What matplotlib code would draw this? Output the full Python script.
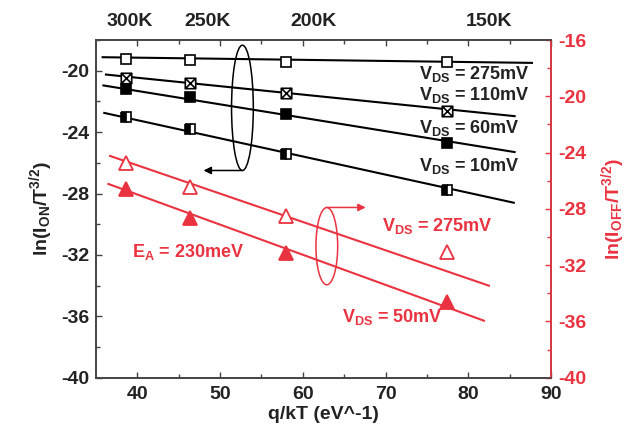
import matplotlib
matplotlib.use("Agg")
import matplotlib.pyplot as plt
from matplotlib.patches import Ellipse
from matplotlib.path import Path
import matplotlib.transforms as mtransforms

plt.rcParams['font.family'] = ['Liberation Sans', 'DejaVu Sans']
plt.rcParams['font.weight'] = 'bold'
plt.rcParams['mathtext.fontset'] = 'custom'
plt.rcParams['mathtext.rm'] = 'Liberation Sans:bold'
plt.rcParams['mathtext.bf'] = 'Liberation Sans:bold'
plt.rcParams['mathtext.it'] = 'Liberation Sans:bold'
plt.rcParams['mathtext.default'] = 'bf'
plt.rcParams['axes.unicode_minus'] = False

# ---------------- data ----------------
qkT = [38.68, 46.42, 58.02, 77.37]          # q/kT at 300K, 250K, 200K, 150K
temp_labels = ['300K', '250K', '200K', '150K']
temp_label_x = [39.1, 48.5, 61.3, 82.5]

on_275 = [-19.25, -19.33, -19.42, -19.40]
on_110 = [-20.47, -20.78, -21.45, -22.60]
on_60 = [-21.20, -21.72, -22.82, -24.74]
on_10 = [-23.00, -23.80, -25.40, -27.78]

off_275 = [-24.72, -26.43, -28.51, -31.09]
off_50 = [-26.61, -28.67, -31.16, -34.60]

# fitted lines (endpoints)
fit_on_275_x, fit_on_275 = [35.8, 87.7], [-19.12, -19.49]
fit_on_110_x, fit_on_110 = [36.2, 85.6], [-20.25, -22.96]
fit_on_60_x, fit_on_60 = [35.9, 85.6], [-20.96, -25.30]
fit_on_10_x, fit_on_10 = [36.0, 85.5], [-22.75, -28.60]
fit_off_275_x, fit_off_275 = [36.7, 82.5], [-24.24, -33.46]
fit_off_50_x, fit_off_50 = [36.5, 81.9], [-26.23, -35.95]

RED = '#ea3340'
DARK = '#222222'

fig = plt.figure(figsize=(6.27, 4.34), dpi=100)
ax = fig.add_axes([0.1531, 0.1297, 0.7257, 0.7781])
ax2 = ax.twinx()

# crossed-square marker
xsq = Path([(-1, -1), (1, -1), (1, 1), (-1, 1), (-1, -1),
            (-1, -1), (1, 1), (-1, 1), (1, -1)],
           [Path.MOVETO, Path.LINETO, Path.LINETO, Path.LINETO, Path.CLOSEPOLY,
            Path.MOVETO, Path.LINETO, Path.MOVETO, Path.LINETO])

lw = 1.5
ms = 7.5
ax.plot(fit_on_275_x, fit_on_275, color='black', lw=lw, zorder=2)
ax.plot(fit_on_110_x, fit_on_110, color='black', lw=lw, zorder=2)
ax.plot(fit_on_60_x, fit_on_60, color='black', lw=lw, zorder=2)
ax.plot(fit_on_10_x, fit_on_10, color='black', lw=lw, zorder=2)

ax.plot(qkT, on_275, ls='none', marker='s', ms=ms, mfc='white', mec='black', mew=1.2, zorder=3)
ax.plot(qkT, on_110, ls='none', marker=xsq, ms=ms, mfc='white', mec='black', mew=1.2, zorder=3)
ax.plot(qkT, on_60, ls='none', marker='s', ms=ms, mfc='black', mec='black', mew=1.2, zorder=3)
ax.plot(qkT, on_10, ls='none', marker='s', ms=ms, fillstyle='left', mfc='black',
        mfcalt='white', mec='black', mew=1.2, zorder=3)

ax2.plot(fit_off_275_x, fit_off_275, color=RED, lw=lw, zorder=2)
ax2.plot(fit_off_50_x, fit_off_50, color=RED, lw=lw, zorder=2)
ax2.plot(qkT, off_275, ls='none', marker='^', ms=10, mfc='white', mec=RED, mew=1.3, zorder=3)
ax2.plot(qkT, off_50, ls='none', marker='^', ms=10, mfc=RED, mec=RED, mew=1.3, zorder=3)

# axes limits and ticks
ax.set_xlim(35, 90)
ax.set_ylim(-40, -18)
ax2.set_ylim(-40, -16)
ax.set_xticks([40, 50, 60, 70, 80, 90])
ax.set_xticks([45, 55, 65, 75, 85], minor=True)
ax.set_yticks([-40, -36, -32, -28, -24, -20])
ax.set_yticks([-38, -34, -30, -26, -22, -18], minor=True)
ax2.set_yticks([-40, -36, -32, -28, -24, -20, -16])
ax2.set_yticks([-38, -34, -30, -26, -22, -18], minor=True)

for a in (ax, ax2):
    for s in a.spines.values():
        s.set_linewidth(1.2)
        s.set_color('#444444')
ax2.spines['right'].set_color(RED)

TFS = 14
ax.tick_params(axis='both', which='both', direction='in', top=True, right=False,
               color='#444444', width=1.0, labelsize=TFS, labelcolor=DARK)
ax.tick_params(axis='x', which='both', pad=6)
ax.tick_params(axis='y', which='both', pad=5)
ax.tick_params(which='major', length=4)
ax.tick_params(which='minor', length=3)
ax2.tick_params(axis='y', which='both', direction='in', color=RED, labelcolor=RED,
                width=1.0, labelsize=TFS, pad=5)
ax2.tick_params(which='major', length=4)
ax2.tick_params(which='minor', length=3)

for lab in ax.get_xticklabels() + ax.get_yticklabels() + ax2.get_yticklabels():
    lab.set_fontweight('bold')

ax.set_xlabel('q/kT (eV^-1)', fontsize=TFS, fontweight='bold', color=DARK, labelpad=2)
ax.set_ylabel(r'ln(I$_{ON}$/T$^{3/2}$)', fontsize=TFS, fontweight='bold', color=DARK, labelpad=4)
ax2.set_ylabel(r'ln(I$_{OFF}$/T$^{3/2}$)', fontsize=TFS, fontweight='bold', color=RED, labelpad=9)

# top temperature labels
trans = mtransforms.blended_transform_factory(ax.transData, ax.transAxes)
for xv, t in zip(temp_label_x, temp_labels):
    ax.text(xv, 1.0415, t, transform=trans, ha='center', va='baseline',
            fontsize=TFS, fontweight='bold', color=DARK)

# annotations (black, left axis)
fs = 13
ax.text(74.0, -20.57, r'V$_{DS}$ = 275mV', fontsize=fs, fontweight='bold', va='baseline', color=DARK)
ax.text(74.0, -21.94, r'V$_{DS}$ = 110mV', fontsize=fs, fontweight='bold', va='baseline', color=DARK)
ax.text(74.0, -24.09, r'V$_{DS}$ = 60mV', fontsize=fs, fontweight='bold', va='baseline', color=DARK)
ax.text(74.0, -26.55, r'V$_{DS}$ = 10mV', fontsize=fs, fontweight='bold', va='baseline', color=DARK)

# annotations (red, right axis)
ax2.text(69.6, -29.55, r'V$_{DS}$ = 275mV', fontsize=fs, fontweight='bold', va='baseline', color=RED)
ax2.text(39.3, -31.4, r'E$_{A}$ = 230meV', fontsize=fs, fontweight='bold', va='baseline', color=RED)
ax2.text(64.75, -36.02, r'V$_{DS}$ = 50mV', fontsize=fs, fontweight='bold', va='baseline', color=RED)

# ellipses and arrows
ax.add_patch(Ellipse((52.7, -22.42), 2.63, 8.16, fill=False, ec='black', lw=1.1, zorder=4))
ax.annotate('', xy=(48.0, -26.5), xytext=(52.7, -26.5),
            arrowprops=dict(arrowstyle='-|>', color='black', lw=1.1,
                            mutation_scale=11, shrinkA=0, shrinkB=0))
ax2.add_patch(Ellipse((62.9, -30.65), 2.63, 5.49, fill=False, ec=RED, lw=1.1, zorder=4))
ax2.annotate('', xy=(67.6, -27.9), xytext=(62.9, -27.9),
             arrowprops=dict(arrowstyle='-|>', color=RED, lw=1.1,
                             mutation_scale=11, shrinkA=0, shrinkB=0))

fig.savefig('out.png', dpi=100)
